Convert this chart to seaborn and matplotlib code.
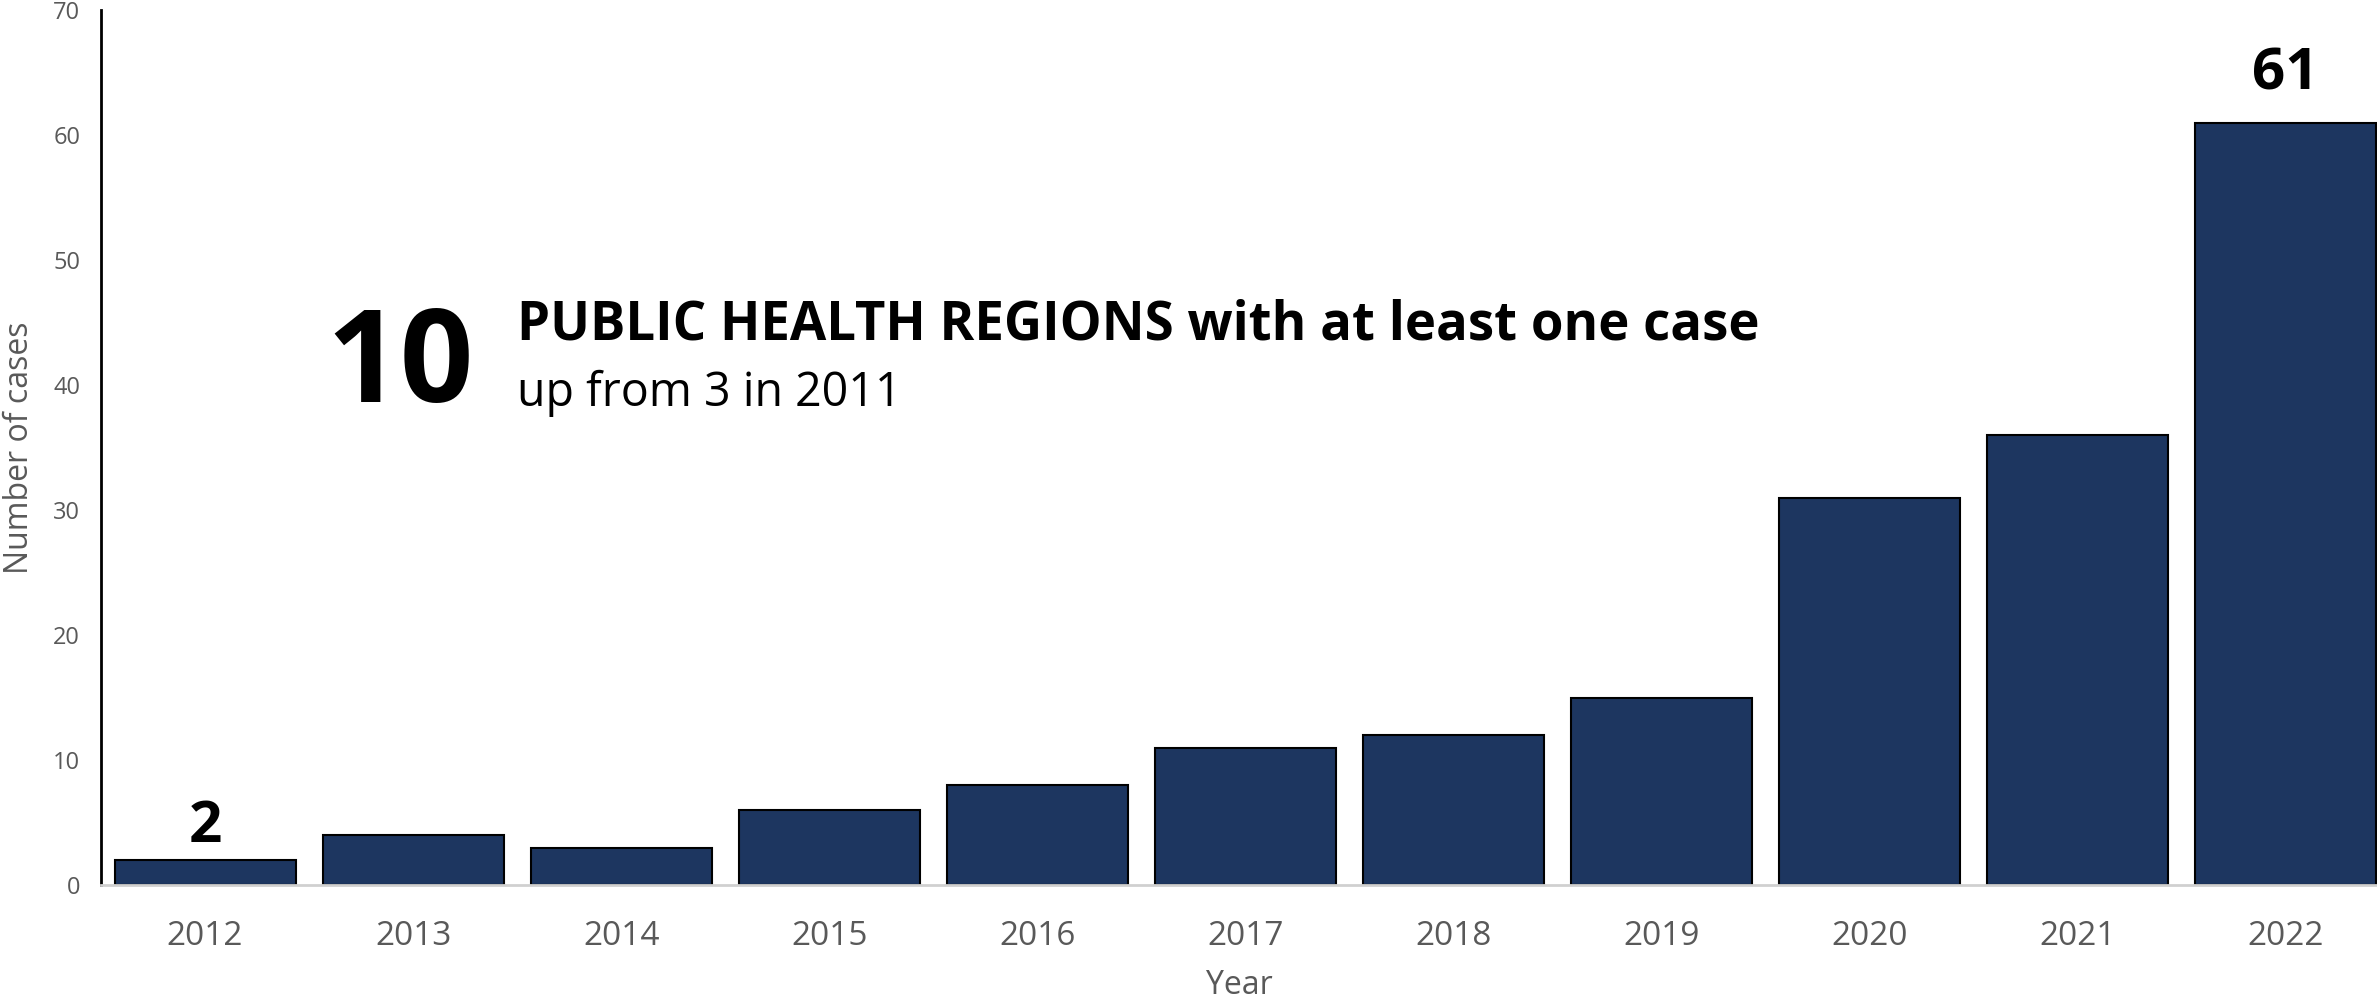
import matplotlib
matplotlib.use("Agg")
import matplotlib.pyplot as plt
import seaborn as sns
import pandas as pd

# Données
years = ["2012", "2013", "2014", "2015", "2016", "2017", "2018", "2019", "2020", "2021", "2022"]
cases = [2, 4, 3, 6, 8, 11, 12, 15, 31, 36, 61]
y_ticks = [0, 10, 20, 30, 40, 50, 60, 70]
labelled_years = ["2012", "2022"]

big_number = "10"
headline = "PUBLIC HEALTH REGIONS with at least one case"
subtitle = "up from 3 in 2011"

BAR_COLOR = "#1D3660"
GREY = "#595959"

sns.set_theme(style="white")
plt.rcParams["font.family"] = ["Open Sans", "DejaVu Sans"]

df = pd.DataFrame({"year": years, "cases": cases})

fig = plt.figure(figsize=(23.77, 10), dpi=100)
ax = fig.add_axes([0.0425, 0.115, 0.9575, 0.875])

sns.barplot(data=df, x="year", y="cases", color=BAR_COLOR, saturation=1,
            edgecolor="black", linewidth=1.5, width=0.87, ax=ax)

ax.set_xlim(-0.5, 10.44)
ax.set_ylim(0, 70)
ax.set_yticks(y_ticks)

ax.tick_params(axis="x", length=0, pad=25, labelsize=24, labelcolor=GREY)
ax.tick_params(axis="y", length=0, pad=15, labelsize=17, labelcolor=GREY)

ax.set_xlabel("Year", fontsize=23, color=GREY, labelpad=12)
ax.set_ylabel("Number of cases", fontsize=23, color=GREY, labelpad=12)

for side in ["top", "right"]:
    ax.spines[side].set_visible(False)
ax.spines["left"].set_color("black")
ax.spines["left"].set_linewidth(2)
ax.spines["bottom"].set_color("#D0D0D0")
ax.spines["bottom"].set_linewidth(2)

# Étiquettes de valeur : seulement première et dernière année
offsets = {"2012": 13, "2022": 24}
for i, (yr, val) in enumerate(zip(years, cases)):
    if yr in labelled_years:
        ax.annotate(str(val), xy=(i, val), xytext=(0, offsets[yr]),
                    textcoords="offset points", ha="center", va="baseline",
                    fontsize=42, fontweight="bold", color="black")

# Encadré texte
fig.text(0.1375, 0.598, big_number, fontsize=93, fontweight="bold",
         color="black", va="baseline", ha="left")
fig.text(0.2175, 0.660, headline, fontsize=38, fontweight="bold",
         color="black", va="baseline", ha="left")
fig.text(0.2175, 0.594, subtitle, fontsize=33.5, color="black",
         va="baseline", ha="left")

fig.savefig("out.png", dpi=100)
